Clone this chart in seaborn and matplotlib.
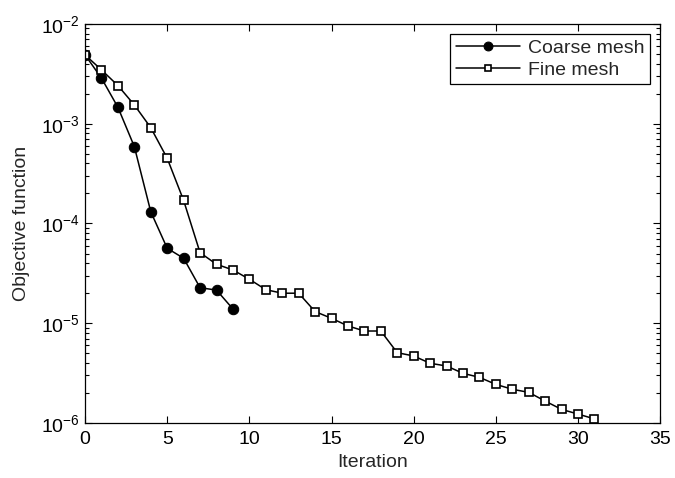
import numpy as np
import pandas as pd
import matplotlib
matplotlib.use("Agg")
import matplotlib.pyplot as plt
import seaborn as sns

# valores
iter_grossa = list(range(10))
obj_grossa = [4.89e-3, 2.86e-3, 1.46e-3, 5.89e-4, 1.31e-4,
              5.64e-5, 4.48e-5, 2.27e-5, 2.15e-5, 1.39e-5]

iter_fina = list(range(32))
obj_fina = [4.89e-3, 3.46e-3, 2.41e-3, 1.54e-3, 9.12e-4, 4.5e-4, 1.70e-4, 5.09e-5,
            3.9e-5, 3.42e-5, 2.76e-5, 2.17e-5, 2.0e-5, 2.0e-5, 1.31e-5, 1.12e-5,
            9.4e-6, 8.36e-6, 8.36e-6, 5.07e-6, 4.7e-6, 3.97e-6, 3.73e-6, 3.15e-6,
            2.87e-6, 2.44e-6, 2.18e-6, 2.03e-6, 1.66e-6, 1.37e-6, 1.23e-6, 1.10e-6]

rotulos = ["Coarse mesh", "Fine mesh"]

sns.set_style("ticks", {"xtick.direction": "in", "ytick.direction": "in"})
plt.rcParams["font.family"] = ["Liberation Sans", "DejaVu Sans"]
plt.rcParams["font.size"] = 14
plt.rcParams["mathtext.fontset"] = "custom"
plt.rcParams["mathtext.rm"] = "Liberation Sans"
plt.rcParams["mathtext.it"] = "Liberation Sans:italic"

fig = plt.figure(figsize=(6.75, 4.78), dpi=100)
ax = fig.add_axes([0.126, 0.115, 0.852, 0.835])

df_g = pd.DataFrame({"it": iter_grossa, "obj": obj_grossa})
df_f = pd.DataFrame({"it": iter_fina, "obj": obj_fina})

sns.lineplot(data=df_g, x="it", y="obj", ax=ax, color="black", lw=1.1,
             marker="o", markersize=7.5, markeredgecolor="black",
             markerfacecolor="black", label=rotulos[0])
sns.lineplot(data=df_f, x="it", y="obj", ax=ax, color="black", lw=1.1,
             marker="s", markersize=5.5, markeredgecolor="black",
             markerfacecolor="white", markeredgewidth=1.2, label=rotulos[1])

ax.set_yscale("log")
ax.set_xlim(0, 35)
ax.set_ylim(1e-6, 1e-2)
ax.set_xticks(range(0, 36, 5))
ax.set_xlabel("Iteration", fontsize=14, labelpad=4)
ax.set_ylabel("Objective function", fontsize=14, labelpad=8)

ax.tick_params(which="both", direction="in", top=True, right=True,
               labelsize=14, width=0.8, colors="black")
ax.tick_params(which="major", length=5)
ax.tick_params(which="minor", length=3)
ax.tick_params(axis="x", which="minor", top=False, bottom=False)
ax.tick_params(axis="x", which="major", pad=6)
for s in ax.spines.values():
    s.set_visible(True)
    s.set_color("black")
    s.set_linewidth(0.9)

leg = ax.legend(loc="upper right", fancybox=False, edgecolor="black",
                framealpha=1, fontsize=14, handlelength=3.3,
                borderaxespad=0.5, markerscale=0.85, borderpad=0.3,
                labelspacing=0.2, handletextpad=0.4)
leg.get_frame().set_linewidth(0.9)

plt.savefig("out.png", dpi=100)
plt.close()
